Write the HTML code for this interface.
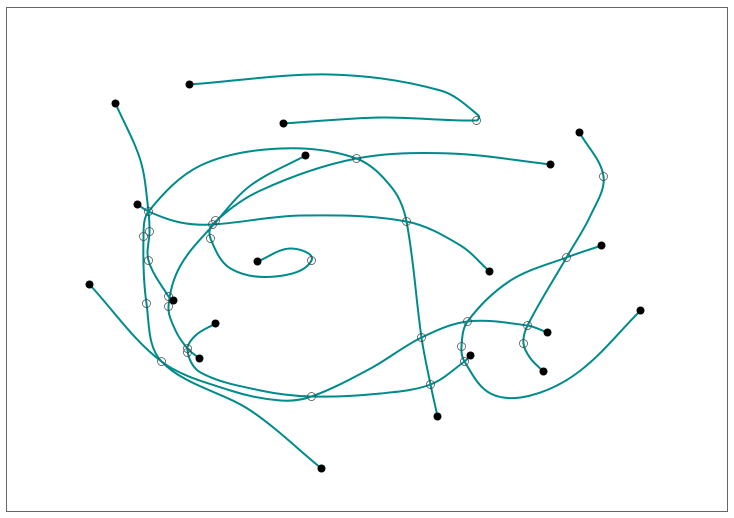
<!DOCTYPE html>
<html><head><meta charset="utf-8"><style>
html,body{margin:0;padding:0;background:#fff;}
svg{display:block;font-family:"Liberation Sans",sans-serif;}
</style></head><body>
<svg id="chart" width="734" height="518" viewBox="0 0 734 518" xmlns="http://www.w3.org/2000/svg">
<rect x="6.5" y="7.5" width="721" height="504" fill="#fff" stroke="#666" stroke-width="1"/>
<g id="curves"></g><g id="marks"></g>
</svg>
<script>
// each curve: waypoint x and y values (data space = pixel space)
const c1x=[189,330,440,478,476,380,283], c1y=[84,74,90,115,120,117,123];
const c2x=[115,140,148,149,148,168,173], c2y=[103,160,211,231,260,296,300];
const c3x=[137,148,180,212,300,406,460,489], c3y=[204,211,222,224,215,221,245,271];
const c4x=[305,250,215,180,168,175,187,199], c4y=[155,185,222,265,306,330,348,358];
const c5x=[550,450,356,260,212,210,230,275,311,290,257], c5y=[164,153,158,190,224,238,268,276,260,248,261];
const c6x=[321,250,161,146,143,148,200,280,356,392,406,421,430,437], c6y=[468,410,361,303,236,211,165,148,158,188,221,337,384,416];
const c7x=[89,161,230,280,311,370,421,467,527,547], c7y=[284,361,390,400,396,368,337,321,325,332];
const c8x=[215,195,187,200,260,311,380,430,464,470], c8y=[323,335,350,372,390,396,393,384,361,355];
const c9x=[579,603,590,566,527,523,530,543], c9y=[132,176,215,257,325,343,358,371];
const c10x=[601,566,510,467,461,464,490,530,580,640], c10y=[245,257,280,321,346,361,393,395,370,310];
const curveX=[c1x,c2x,c3x,c4x,c5x,c6x,c7x,c8x,c9x,c10x];
const curveY=[c1y,c2y,c3y,c4y,c5y,c6y,c7y,c8y,c9y,c10y];
// open control-point markers
const ctrlX=[476,148,149,148,168,212,406,215,210,356,311,143,146,161,421,430,311,467,527,464,461,603,566,523,187,187,168];
const ctrlY=[120,211,231,260,296,224,221,220,238,158,260,236,303,361,337,384,396,321,325,361,346,176,257,343,348,352,306];
const xs=v=>v+0.5, ys=v=>v+0.5;
const NS="http://www.w3.org/2000/svg";
const gc=document.getElementById('curves'), gm=document.getElementById('marks');
function dist(a,b){return Math.hypot(a[0]-b[0],a[1]-b[1])||1;}
function pathD(X,Y){
  const P=X.map((x,i)=>[xs(x),ys(Y[i])]);
  let d="M"+P[0][0]+","+P[0][1];
  const T=P.map((p,i)=>{
    const p0=P[Math.max(0,i-1)],p2=P[Math.min(P.length-1,i+1)];
    const L=dist(p0,p2);return [(p2[0]-p0[0])/L,(p2[1]-p0[1])/L];
  });
  for(let i=0;i<P.length-1;i++){
    const p1=P[i],p2=P[i+1],s=dist(p1,p2)/3;
    const a=[p1[0]+T[i][0]*s,p1[1]+T[i][1]*s];
    const b=[p2[0]-T[i+1][0]*s,p2[1]-T[i+1][1]*s];
    d+=" C"+a[0].toFixed(1)+","+a[1].toFixed(1)+" "+b[0].toFixed(1)+","+b[1].toFixed(1)+" "+p2[0]+","+p2[1];
  }
  return d;
}
curveX.forEach((X,k)=>{
  const Y=curveY[k];
  const p=document.createElementNS(NS,'path');
  p.setAttribute('d',pathD(X,Y));
  p.setAttribute('fill','none');p.setAttribute('stroke','#008b8b');p.setAttribute('stroke-width','2');
  
  
  gc.appendChild(p);
});
ctrlX.forEach((x,i)=>{
  const c=document.createElementNS(NS,'circle');
  c.setAttribute('cx',xs(x));c.setAttribute('cy',ys(ctrlY[i]));c.setAttribute('r','4');
  c.setAttribute('fill','none');c.setAttribute('stroke','#444');c.setAttribute('stroke-width','0.7');
  
  
  gm.appendChild(c);
});
curveX.forEach((X,k)=>{
  const Y=curveY[k];
  [0,X.length-1].forEach(j=>{
    const c=document.createElementNS(NS,'circle');
    c.setAttribute('cx',xs(X[j]));c.setAttribute('cy',ys(Y[j]));c.setAttribute('r','4');
    c.setAttribute('fill','#000');
    
    
    gm.appendChild(c);
  });
});
</script>
</body></html>
